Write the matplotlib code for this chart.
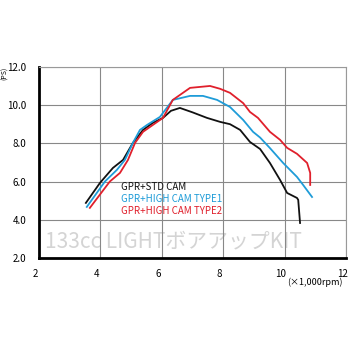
import numpy as np
import matplotlib.pyplot as plt
import matplotlib.transforms as mtransforms

plt.rcParams['font.family'] = ['Noto Sans CJK JP', 'DejaVu Sans']

# rpm (x1000) / power (PS)
std_rpm = [3.53, 3.99, 4.41, 4.74, 5.06, 5.39, 5.71, 6.04, 6.3, 6.59, 7.0, 7.47,
           7.9, 8.22, 8.55, 8.87, 9.2, 9.52, 9.85, 10.08, 10.4, 10.44, 10.5]
std_ps = [4.88, 5.93, 6.71, 7.13, 8.02, 8.7, 9.07, 9.33, 9.7, 9.85, 9.62, 9.33,
          9.12, 9.0, 8.7, 8.07, 7.7, 6.97, 6.08, 5.4, 5.14, 5.04, 3.83]

type1_rpm = [3.56, 4.15, 4.54, 4.80, 5.06, 5.29, 5.52, 5.94, 6.36, 6.92, 7.34, 7.80,
             8.22, 8.65, 8.97, 9.2, 9.52, 9.95, 10.4, 10.6, 10.89]
type1_ps = [4.67, 6.0, 6.61, 7.13, 8.02, 8.7, 8.96, 9.38, 10.27, 10.48, 10.48, 10.27,
            9.9, 9.22, 8.6, 8.3, 7.75, 6.97, 6.24, 5.82, 5.19]

type2_rpm = [3.66, 4.31, 4.64, 4.90, 5.13, 5.39, 5.71, 6.04, 6.36, 6.92, 7.57, 7.9,
             8.22, 8.65, 8.87, 9.13, 9.52, 9.85, 10.08, 10.4, 10.73, 10.83, 10.83]
type2_ps = [4.62, 6.0, 6.45, 7.13, 8.02, 8.6, 8.96, 9.33, 10.27, 10.9, 11.0, 10.85,
            10.64, 10.1, 9.64, 9.33, 8.6, 8.18, 7.76, 7.45, 6.97, 6.45, 5.82]

labels = ['GPR+STD CAM', 'GPR+HIGH CAM TYPE1', 'GPR+HIGH CAM TYPE2']
colors = ['#111111', '#1f9cd8', '#e0202c']

x_ticks = [2, 4, 6, 8, 10, 12]
y_ticks = [2.0, 4.0, 6.0, 8.0, 10.0, 12.0]

fig = plt.figure(figsize=(3.5, 3.5), dpi=100)
ax = fig.add_axes([0.111, 0.263, 0.878, 0.546])

ax.plot(std_rpm, std_ps, color=colors[0], lw=1.3)
ax.plot(type1_rpm, type1_ps, color=colors[1], lw=1.3)
ax.plot(type2_rpm, type2_ps, color=colors[2], lw=1.3)

ax.set_xlim(2, 12)
ax.set_ylim(2, 12)
ax.set_xticks(x_ticks)
ax.set_yticks(y_ticks)
ax.set_xticklabels([str(t) for t in x_ticks], fontsize=7)
ax.set_yticklabels(['%.1f' % t for t in y_ticks], fontsize=7)
ax.tick_params(length=0)
ax.tick_params(axis='y', pad=9)
ax.tick_params(axis='x', pad=8)
ax.grid(color='#888888', lw=0.8)

# x labels sit a little left of their gridlines
shift = mtransforms.ScaledTranslation(-4 / 100, 0, fig.dpi_scale_trans)
for lbl in ax.get_xticklabels():
    lbl.set_transform(lbl.get_transform() + shift)

for side in ['left', 'bottom']:
    ax.spines[side].set_linewidth(2)
    ax.spines[side].set_color('black')
for side in ['top', 'right']:
    ax.spines[side].set_linewidth(0.8)
    ax.spines[side].set_color('#999999')

fig.text(0.013, 0.79, '(PS)', rotation=90, fontsize=5, ha='center', va='center')
fig.text(0.9, 0.194, '(×1,000rpm)', fontsize=6.5, ha='center', va='center')

# legend text
for i, (lab, c) in enumerate(zip(labels, colors)):
    ax.text(0.266, 0.37 - i * 0.063, lab, color=c, fontsize=7, transform=ax.transAxes,
            va='center', ha='left')

ax.text(0.02, 0.085, '133cc LIGHTボアアップKIT', color='#d4d4d4', fontsize=15,
        transform=ax.transAxes, va='center', ha='left', zorder=0)

fig.savefig('out.png')
